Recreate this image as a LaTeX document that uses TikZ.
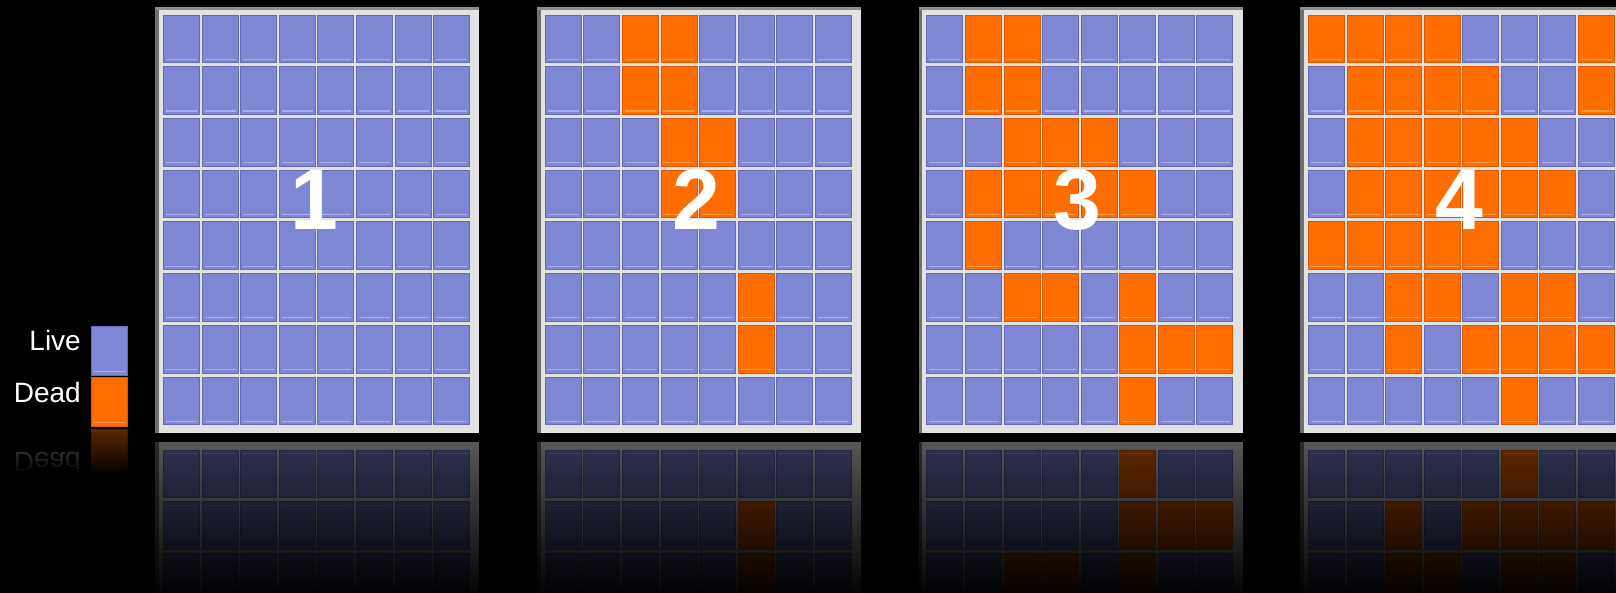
\documentclass[tikz,border=0pt]{standalone}
\usepackage{fontspec}
\setmainfont{Liberation Sans}
\usetikzlibrary{fadings}
\definecolor{livefill}{HTML}{7F86D4}
\definecolor{liveedge}{HTML}{666CB4}
\definecolor{livehi}{HTML}{A8AEF2}
\definecolor{deadfill}{HTML}{FF6C00}
\definecolor{deadedge}{HTML}{D95A00}
\definecolor{deadhi}{HTML}{FF9A45}
\definecolor{framebg}{HTML}{E2E2E2}
\definecolor{frameshade}{HTML}{707070}
\tikzfading[name=gridrefl, top color=transparent!40, bottom color=transparent!0]
\tikzfading[name=legrefl, top color=transparent!38, bottom color=transparent!0]
\tikzset{
  legendtext/.style={text=white, font=\fontsize{28}{32}\selectfont, inner sep=0pt},
  digit/.style={text=white, font=\fontsize{86}{86}\selectfont\bfseries, inner sep=0pt, anchor=base},
}
% one cell: #1 = x0 of grid, #2 = column, #3 = row, #4 = kind (live/dead)
\newcommand\mycell[4]{%
  \pgfmathsetmacro\cx{#1+(#2-1)*38.57}%
  \pgfmathsetmacro\cy{15+(#3-1)*51.7}%
  \fill[fill=#4fill, draw=#4edge, line width=0.8pt] (\cx,\cy) rectangle ++(36,47.7);%
  \draw[#4hi, line width=1.2pt] (\cx+2.5,\cy+44.3) -- (\cx+33.5,\cy+44.3);%
}
\newcommand\gridbase[1]{%
  \fill[framebg] (#1-8.3,7) rectangle (#1+315.7,433);%
  \fill[frameshade] (#1-8.3,7) rectangle (#1-4.5,433);%
  \fill[frameshade!80] (#1-8.3,7) rectangle (#1+315.7,10);%
  \foreach \cc in {1,...,8}{\foreach \rr in {1,...,8}{\mycell{#1}{\cc}{\rr}{live}}}%
}
\newcommand\deadcells[2]{%
  \foreach \cc/\rr in {#2}{\mycell{#1}{\cc}{\rr}{dead}}%
}
\newcommand\gridA{\gridbase{163.6}}
\newcommand\gridB{\gridbase{545.2}\deadcells{545.2}{3/1,4/1,3/2,4/2,4/3,5/3,4/4,5/4,6/6,6/7}}
\newcommand\gridC{\gridbase{926.8}\deadcells{926.8}{2/1,3/1,2/2,3/2,3/3,4/3,5/3,2/4,3/4,4/4,5/4,6/4,2/5,3/6,4/6,6/6,6/7,7/7,8/7,6/8}}
\newcommand\gridD{\gridbase{1308.4}\deadcells{1308.4}{1/1,2/1,3/1,4/1,8/1,2/2,3/2,4/2,5/2,8/2,2/3,3/3,4/3,5/3,6/3,2/4,3/4,4/4,5/4,6/4,7/4,1/5,2/5,3/5,4/5,5/5,3/6,4/6,6/6,7/6,3/7,5/7,6/7,7/7,8/7,6/8}}
\begin{document}
\begin{tikzpicture}[x=1pt,y=-1pt]
\useasboundingbox (0,0) rectangle (1616,592);
\fill[black] (-10,-10) rectangle (1626,602);
\clip (0,0) rectangle (1616,592);
% grids
\gridA \gridB \gridC \gridD
% generation numbers
\node[digit] (n1) at (163.6+151,229) {1};
\node[digit] (n2) at (545.2+151,229) {2};
\node[digit] (n3) at (926.8+151,229) {3};
\node[digit] (n4) at (1308.4+151,229) {4};
% legend
\node[legendtext, anchor=base east] (live) at (81,350.7) {Live};
\node[legendtext, anchor=base east] (dead) at (81,402.7) {Dead};
\fill[fill=livefill, draw=liveedge, line width=0.8pt] (91.7,326) rectangle (127.7,375);
\draw[livehi, line width=1.2pt] (94.2,371.6) -- (125.2,371.6);
\fill[fill=deadfill, draw=deadedge, line width=0.8pt] (91.7,377.3) rectangle (127.7,426);
\draw[deadhi, line width=1.2pt] (94.2,422.6) -- (125.2,422.6);
% reflections of the grids
\begin{scope}[shift={(0,874.6)}, yscale=-1]
  \gridA \gridB \gridC \gridD
\end{scope}
% reflection of the legend
\begin{scope}[shift={(0,855.2)}, yscale=-1, transform shape]
  \node[legendtext, anchor=base east] (deadrefl) at (81,402.7) {Dead};
  \fill[fill=deadfill, draw=deadedge, line width=0.8pt] (91.7,377.3) rectangle (127.7,426);
\end{scope}
% fading of the reflections
\fill[black, path fading=legrefl] (-10,427) rectangle (150,474);
\fill[black] (-10,472) rectangle (150,602);
\fill[black, path fading=gridrefl] (145,437) rectangle (1660,600);
\end{tikzpicture}
\end{document}
